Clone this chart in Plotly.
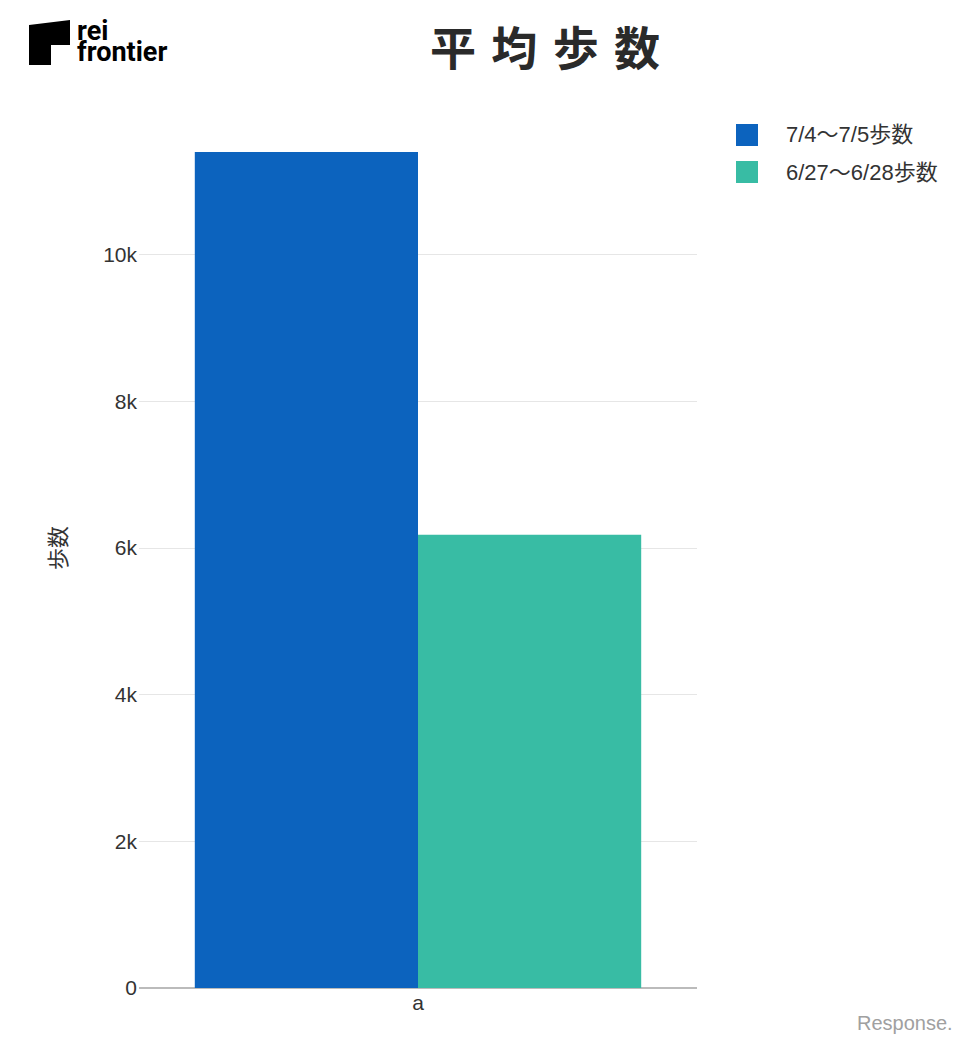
import plotly.graph_objects as go

# ---- data ----
categories = ["a"]
series_names = ["7/4～7/5歩数", "6/27～6/28歩数"]
series_values = [[11400], [6180]]
series_colors = ["#0c63be", "#38bca4"]
tick_vals = [0, 2000, 4000, 6000, 8000, 10000]
tick_text = ["0", "2k", "4k", "6k", "8k", "10k"]

W, H = 968, 1045
OFF = 8  # page body offset
# plot area in reference pixels: x 139..697, y 108..988
ML, MT = 139 - OFF, 108 - OFF
MR, MB = W - (697 - OFF), H - (988 - OFF)
PW, PH = W - ML - MR, H - MT - MB


def px(x):
    return (x - OFF - ML) / PW


def py(y):
    return (H - MB - (y - OFF)) / PH


fig = go.Figure()
for name, vals, col in zip(series_names, series_values, series_colors):
    fig.add_trace(go.Bar(x=categories, y=vals, name=name, marker_color=col,
                         marker_line_width=0, showlegend=False))

font_main = "Liberation Sans, Arial, Noto Sans CJK JP, sans-serif"

fig.update_layout(
    width=W, height=H,
    margin=dict(l=ML, r=MR, t=MT, b=MB),
    paper_bgcolor="white", plot_bgcolor="white",
    barmode="group", bargap=0.2, bargroupgap=0,
    font=dict(family=font_main, size=21, color="#333"),
    yaxis=dict(range=[0, 12000], tickvals=tick_vals, ticktext=tick_text,
               gridcolor="#e6e6e6", gridwidth=1, zeroline=True,
               zerolinecolor="#bbbbbb", zerolinewidth=1.5,
               tickfont=dict(size=21, color="#333"),
               title=dict(text="歩数", font=dict(size=22, color="#333",
                          family="Noto Sans CJK JP, sans-serif"), standoff=30),
               ticks="", ticklabelstandoff=1),
    xaxis=dict(tickfont=dict(size=21, color="#333"), showgrid=False),
)

shapes = []
annotations = []
# manual legend
legend_y = [135, 172]
for name, col, ly in zip(series_names, series_colors, legend_y):
    shapes.append(dict(type="rect", xref="paper", yref="paper",
                       x0=px(736), x1=px(758), y0=py(ly - 11), y1=py(ly + 11),
                       fillcolor=col, line=dict(width=0)))
    annotations.append(dict(text=name, xref="paper", yref="paper",
                            x=px(784), y=py(ly), xanchor="left", yanchor="middle",
                            showarrow=False,
                            font=dict(size=22, color="#333",
                                      family="Liberation Sans, Noto Sans CJK JP, sans-serif")))

# title
annotations.append(dict(text="<b>平\u2004均\u2004歩\u2004数</b>", xref="paper", yref="paper",
                        x=px(545), y=py(45), xanchor="center", yanchor="middle",
                        showarrow=False,
                        font=dict(size=46, color="#2a2a2a", family="Noto Sans CJK JP")))

# logo
path = "M {} {} L {} {} L {} {} L {} {} L {} {} L {} {} Z".format(
    px(29), py(25), px(70), py(20), px(70), py(45), px(51), py(45), px(51), py(65), px(29), py(65))
shapes.append(dict(type="path", xref="paper", yref="paper", path=path,
                   fillcolor="black", line=dict(width=0)))
annotations.append(dict(text="<b>rei</b>", xref="paper", yref="paper",
                        x=px(75), y=py(31), xanchor="left", yanchor="middle",
                        showarrow=False,
                        font=dict(size=27, color="black", family="Roboto, Liberation Sans")))
annotations.append(dict(text="<b>frontier</b>", xref="paper", yref="paper",
                        x=px(75), y=py(52), xanchor="left", yanchor="middle",
                        showarrow=False,
                        font=dict(size=27, color="black", family="Roboto, Liberation Sans")))

# watermark
annotations.append(dict(text="Response.", xref="paper", yref="paper",
                        x=px(955), y=py(1023), xanchor="right", yanchor="middle",
                        showarrow=False,
                        font=dict(size=20, color="#a0a0a0", family="Liberation Sans")))

fig.update_layout(shapes=shapes, annotations=annotations)
fig.write_html("out.html")
